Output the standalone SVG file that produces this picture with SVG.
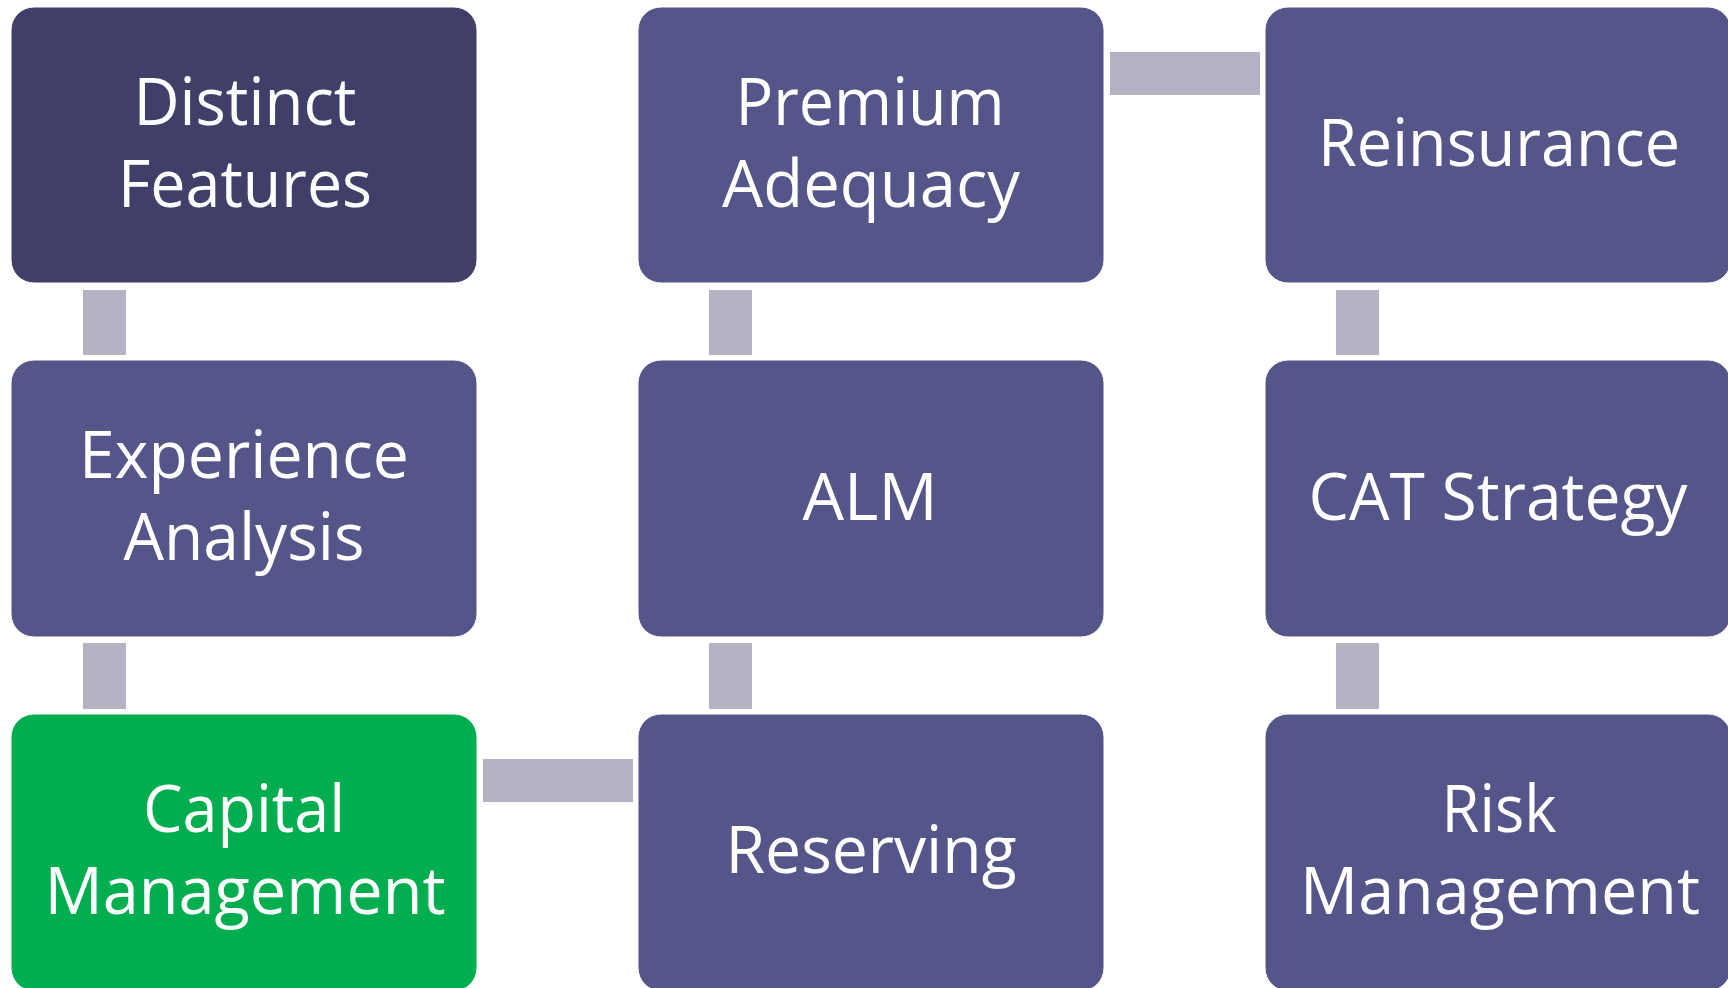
<svg xmlns="http://www.w3.org/2000/svg" width="1728" height="988" viewBox="0 0 1728 988">
<style>
.box{fill:#545589;stroke:#ffffff;stroke-width:1}
.dark{fill:#3f3f69}
.green{fill:#00ae50}
.con{fill:#b3b3c4}
.t{font-family:"Open Sans","Noto Sans",sans-serif;font-size:66px;fill:#ffffff;text-anchor:middle}
</style>
<rect width="1728" height="988" fill="#ffffff"/>
<g id="connectors">
<rect class="con" x="83" y="290" width="43" height="65"/>
<rect class="con" x="83" y="643" width="43" height="66"/>
<rect class="con" x="709" y="290" width="43" height="65"/>
<rect class="con" x="709" y="643" width="43" height="66"/>
<rect class="con" x="1336" y="290" width="43" height="65"/>
<rect class="con" x="1336" y="643" width="43" height="66"/>
<rect class="con" x="1110" y="52" width="150" height="43"/>
<rect class="con" x="483" y="759" width="150" height="43"/>
</g>
<g id="distinct-features">
<rect class="box dark" x="11" y="7" width="466" height="276" rx="23"/>
<text class="t" x="245" y="125" textLength="223" lengthAdjust="spacingAndGlyphs">Distinct</text>
<text class="t" x="245" y="207" textLength="254" lengthAdjust="spacingAndGlyphs">Features</text>
</g>
<g id="experience-analysis">
<rect class="box" x="11" y="360" width="466" height="277" rx="23"/>
<text class="t" x="244" y="478" textLength="330" lengthAdjust="spacingAndGlyphs">Experience</text>
<text class="t" x="244" y="560" textLength="241" lengthAdjust="spacingAndGlyphs">Analysis</text>
</g>
<g id="capital-management">
<rect class="box green" x="11" y="714" width="466" height="277" rx="23"/>
<text class="t" x="244" y="832" textLength="202" lengthAdjust="spacingAndGlyphs">Capital</text>
<text class="t" x="245" y="914" textLength="401" lengthAdjust="spacingAndGlyphs">Management</text>
</g>
<g id="premium-adequacy">
<rect class="box" x="638" y="7" width="466" height="276" rx="23"/>
<text class="t" x="870" y="125" textLength="269" lengthAdjust="spacingAndGlyphs">Premium</text>
<text class="t" x="871" y="207" textLength="298" lengthAdjust="spacingAndGlyphs">Adequacy</text>
</g>
<g id="alm">
<rect class="box" x="638" y="360" width="466" height="277" rx="23"/>
<text class="t" x="870" y="520" textLength="135" lengthAdjust="spacingAndGlyphs">ALM</text>
</g>
<g id="reserving">
<rect class="box" x="638" y="714" width="466" height="277" rx="23"/>
<text class="t" x="871" y="873" textLength="291" lengthAdjust="spacingAndGlyphs">Reserving</text>
</g>
<g id="reinsurance">
<rect class="box" x="1265" y="7" width="466" height="276" rx="23"/>
<text class="t" x="1499" y="166" textLength="362" lengthAdjust="spacingAndGlyphs">Reinsurance</text>
</g>
<g id="cat-strategy">
<rect class="box" x="1265" y="360" width="466" height="277" rx="23"/>
<text class="t" x="1498" y="520" textLength="379" lengthAdjust="spacingAndGlyphs">CAT Strategy</text>
</g>
<g id="risk-management">
<rect class="box" x="1265" y="714" width="466" height="277" rx="23"/>
<text class="t" x="1499" y="832" textLength="115" lengthAdjust="spacingAndGlyphs">Risk</text>
<text class="t" x="1500" y="914" textLength="400" lengthAdjust="spacingAndGlyphs">Management</text>
</g>
</svg>
